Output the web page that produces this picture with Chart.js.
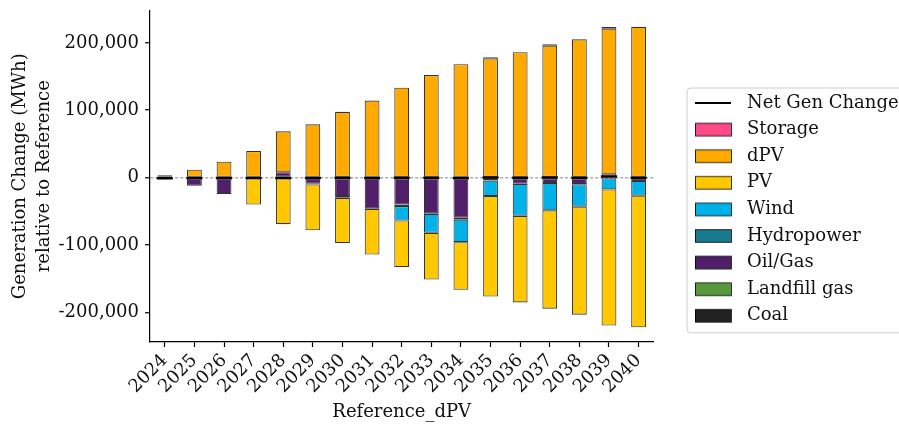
<!DOCTYPE html>
<html>
<head>
<meta charset="utf-8">
<script src="https://cdn.jsdelivr.net/npm/chart.js@4.4.1/dist/chart.umd.min.js"></script>
<style>
  html, body { margin: 0; padding: 0; background: #fff; }
</style>
</head>
<body>
<canvas id="myChart" width="899" height="427"></canvas>
<script>
// values (MWh change vs Reference)
const years = ['2024', '2025', '2026', '2027', '2028', '2029', '2030', '2031', '2032',
  '2033', '2034', '2035', '2036', '2037', '2038', '2039', '2040'];
const storage = [null, null, null, null, null, null, null, null, null, null, null, 1500, null, 2000, null, 2500, null];
const dpv = [3500, 11800, 23500, 39300, 60800, 79000, 97600, 114300, 133400, 152100, 168200, 177000, 186000, 195800, 205200, 216000, 223800];
const pv = [null, null, null, -40100, -69100, -68100, -67100, -67600, -69100, -69500, -70600, -149100, -128500, -146100, -160300, -202000, -195200];
const wind = [null, null, null, null, null, null, null, null, -21400, -28000, -33400, -23000, -47500, -40500, -33400, -17600, -21900];
const hydro = [null, null, null, null, null, -800, -2600, -1000, -2500, -1000, -2800, null, null, null, null, null, null];
const oilGas = [-2500, -12200, -24400, null, 7900, -9300, -27400, -45500, -39800, -52900, -59700, -4400, -9300, -8000, -9700, 5000, -5000];
const landfill = [null, null, null, null, null, null, null, null, null, null, null, null, null, null, null, null, null];
const coal = [null, null, null, null, null, null, null, null, null, null, null, null, null, null, null, null, null];
const netGen = [-800, -600, -700, -600, -600, -500, -300, -600, -300, -400, -500, 0, -300, 0, -300, 1500, -300];
const yTicks = [-200000, -100000, 0, 100000, 200000];

Chart.defaults.font.family = "'DejaVu Serif', serif";
Chart.defaults.font.size = 18;
Chart.defaults.color = '#111';

const edge = 'rgba(0,0,0,0.8)';
function barSet(label, data, color) {
  return {
    type: 'bar',
    label: label,
    data: data,
    backgroundColor: color,
    borderColor: edge,
    borderWidth: 1.1,
    borderSkipped: false,
    barPercentage: 0.5,
    categoryPercentage: 1.0
  };
}

// legend swatch: 38px handle inside a 44px box, so the text sits further right
function swatch(ds) {
  const c = document.createElement('canvas');
  c.width = 44;
  c.height = 16;
  const g = c.getContext('2d');
  if (ds.type === 'line') {
    g.strokeStyle = '#000';
    g.lineWidth = 2;
    g.beginPath();
    g.moveTo(1, 8);
    g.lineTo(37, 8);
    g.stroke();
  } else {
    g.fillStyle = ds.backgroundColor;
    g.fillRect(1, 1.7, 36, 12.6);
    g.strokeStyle = edge;
    g.lineWidth = 1;
    g.strokeRect(1.5, 1.7, 36, 12.6);
  }
  return c;
}

// matplotlib-like frame round the legend
const legendFrame = {
  id: 'legendFrame',
  afterDraw(chart) {
    const lg = chart.legend;
    const boxes = lg.legendHitBoxes;
    if (!boxes || !boxes.length) return;
    const first = boxes[0];
    const last = boxes[boxes.length - 1];
    const ctx = chart.ctx;
    ctx.save();
    ctx.strokeStyle = 'rgba(200,200,200,0.9)';
    ctx.lineWidth = 1;
    ctx.beginPath();
    ctx.roundRect(first.left - 7, first.top - 6, chart.width, last.top + last.height - first.top + 14, 4);
    ctx.stroke();
    ctx.restore();
  }
};

const ctx = document.getElementById('myChart').getContext('2d');
const myChart = new Chart(ctx, {
  data: {
    labels: years,
    datasets: [
      barSet('Coal', coal, '#222222'),
      barSet('Landfill gas', landfill, '#58993f'),
      barSet('Oil/Gas', oilGas, '#511e6a'),
      barSet('Hydropower', hydro, '#1a7a8d'),
      barSet('Wind', wind, '#00b2e8'),
      barSet('PV', pv, '#ffc800'),
      barSet('dPV', dpv, '#ffaa00'),
      barSet('Storage', storage, '#ff4b85'),
      {
        type: 'line',
        label: 'Net Gen Change',
        data: netGen,
        showLine: false,
        pointStyle: 'line',
        pointRadius: 8,
        pointHoverRadius: 8,
        pointBorderWidth: 2.5,
        borderWidth: 2,
        borderColor: '#000',
        backgroundColor: '#000'
      }
    ]
  },
  plugins: [legendFrame],
  options: {
    responsive: false,
    devicePixelRatio: 1,
    animation: false,
    layout: { padding: 0 },
    plugins: {
      tooltip: { enabled: false },
      legend: {
        position: 'right',
        align: 'start',
        reverse: true,
        maxWidth: 213.6,
        title: { display: true, text: '', font: { size: 10, lineHeight: 1 }, padding: { top: 75.4, bottom: 0 } },
        labels: {
          usePointStyle: true,
          pointStyleWidth: 44,
          boxHeight: 12.6,
          padding: 8.6,
          color: '#111',
          font: { size: 18 },
          generateLabels(chart) {
            const items = Chart.defaults.plugins.legend.labels.generateLabels(chart);
            items.forEach(it => {
              it.pointStyle = swatch(chart.data.datasets[it.datasetIndex]);
            });
            return items;
          }
        }
      }
    },
    scales: {
      x: {
        stacked: true,
        grid: { display: true, drawOnChartArea: false, offset: false, tickLength: 5, tickColor: '#000', tickWidth: 1.2 },
        border: { color: '#000', width: 1.2 },
        ticks: { autoSkip: false, minRotation: 45, maxRotation: 45, padding: 3, color: '#111' },
        title: { display: true, text: 'Reference_dPV', color: '#111', padding: { top: 0, bottom: 4 } },
        afterFit(scale) { scale.height = 85; }
      },
      y: {
        stacked: true,
        min: -244000,
        max: 248000,
        afterBuildTicks(scale) { scale.ticks = yTicks.map(v => ({ value: v })); },
        grid: {
          drawTicks: true,
          tickLength: 5,
          tickColor: '#000',
          tickWidth: 1.2,
          lineWidth: 1.5,
          color: (c) => (c.tick && c.tick.value === 0) ? 'rgba(150,150,150,0.8)' : 'rgba(0,0,0,0)'
        },
        border: {
          color: '#000',
          width: 1.2,
          dash: (c) => (c.tick && c.tick.value === 0) ? [3, 2] : []
        },
        ticks: {
          padding: 6,
          color: '#111',
          callback: (v) => Number(v).toLocaleString('en-US')
        },
        title: {
          display: true,
          text: ['Generation Change (MWh)', 'relative to Reference'],
          color: '#111',
          font: { size: 18, lineHeight: 1.333 },
          padding: { top: 8.5, bottom: 0 }
        },
        afterFit(scale) {
          scale.width = 150;
          scale.paddingTop = 8;
          scale.paddingBottom = 0;
        }
      },
      spacer: {
        axis: 'y',
        position: 'right',
        display: true,
        grid: { display: false, drawTicks: false },
        border: { display: false },
        ticks: { display: false },
        afterFit(scale) { scale.width = 32; }
      }
    }
  }
});
</script>
</body>
</html>
